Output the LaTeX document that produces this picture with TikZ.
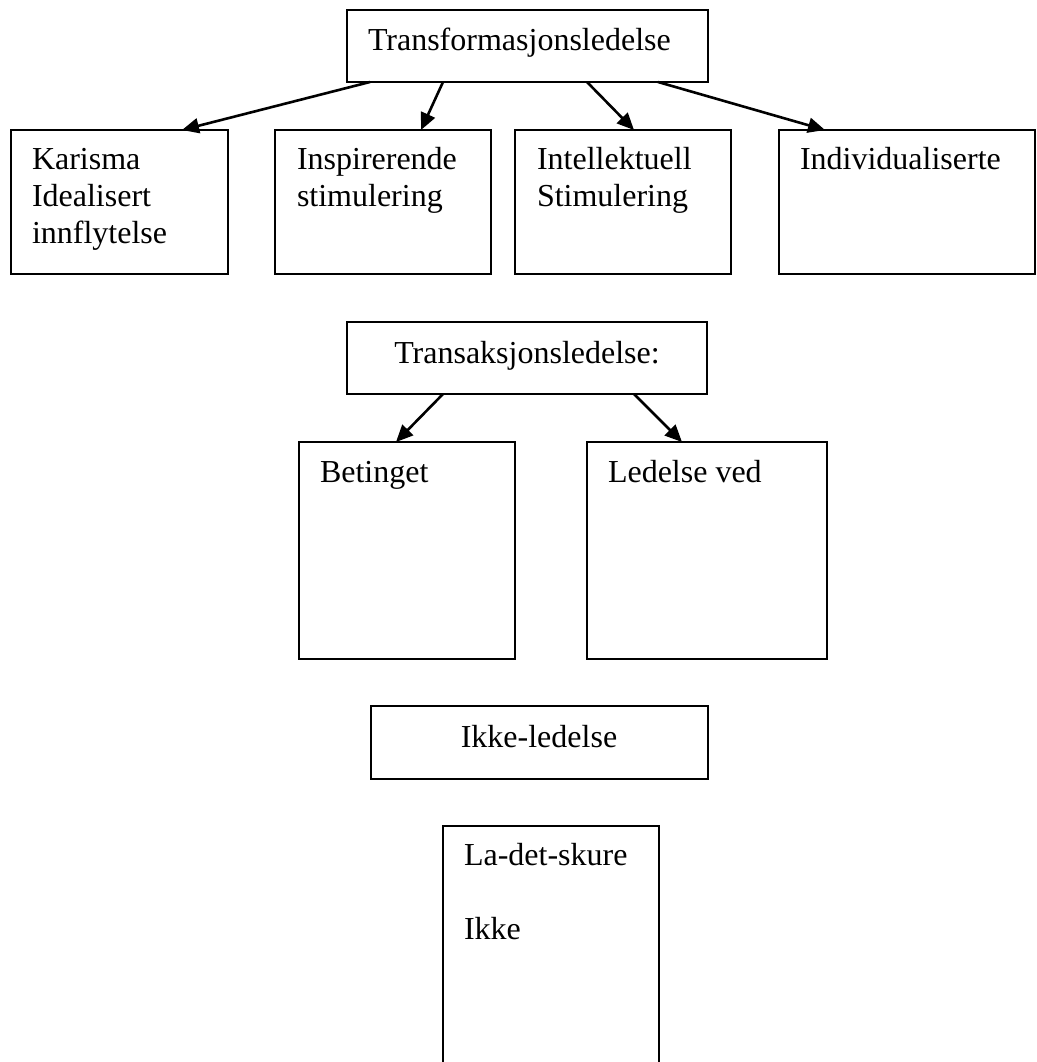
\documentclass[tikz,border=0pt]{standalone}
\usepackage{fontspec}
\setmainfont{Liberation Serif}
\usetikzlibrary{arrows.meta}
\begin{document}
\begin{tikzpicture}[x=1pt,y=-1pt,
  box/.style={draw, line width=2pt, rectangle, inner sep=0pt, outer sep=0pt, anchor=north west},
  % multi-line labels: the base anchor sits on the last line
  lbl/.style={inner sep=0pt, outer sep=0pt, anchor=base west, align=left,
    font=\fontsize{32}{37}\selectfont},
  ctr/.style={inner sep=0pt, outer sep=0pt, anchor=base,
    font=\fontsize{32}{37}\selectfont},
  link/.style={line width=2.6pt, -{Triangle[length=17pt,width=15pt]}}]
  \clip (0,0) rectangle (1036,1062);
  \fill[white] (0,0) rectangle (1036,1062);

  % transformational leadership
  \node[box, minimum width=361pt, minimum height=72pt] (tf) at (347,10) {};
  \node[lbl] (tft) at (368,51) {Transformasjonsledelse};

  \node[box, minimum width=217pt, minimum height=144pt] (kar) at (11,130) {};
  \node[lbl] (kart) at (32,243) {Karisma\\Idealisert\\innflytelse};

  \node[box, minimum width=216pt, minimum height=144pt] (insp) at (275,130) {};
  \node[lbl] (inspt) at (297,206) {Inspirerende\\stimulering};

  \node[box, minimum width=216pt, minimum height=144pt] (intel) at (515,130) {};
  \node[lbl] (intelt) at (537,206) {Intellektuell\\Stimulering};

  \node[box, minimum width=256pt, minimum height=144pt] (indiv) at (779,130) {};
  \node[lbl] (indivt) at (800,169) {Individualiserte};

  \draw[link] ([xshift=23pt]tf.south west) -- ([xshift=171pt]kar.north west);
  \draw[link] ([xshift=96pt]tf.south west) -- ([xshift=146pt]insp.north west);
  \draw[link] ([xshift=240pt]tf.south west) -- ([xshift=119pt]intel.north west);
  \draw[link] ([xshift=311pt]tf.south west) -- ([xshift=46pt]indiv.north west);

  % transactional leadership
  \node[box, minimum width=360pt, minimum height=72pt] (ta) at (347,322) {};
  \node[ctr] (tat) at (527,363) {Transaksjonsledelse:};

  \node[box, minimum width=216pt, minimum height=217pt] (bet) at (299,442) {};
  \node[lbl] (bett) at (320,482) {Betinget};

  \node[box, minimum width=240pt, minimum height=217pt] (led) at (587,442) {};
  \node[lbl] (ledt) at (608,482) {Ledelse ved};

  \draw[link] ([xshift=96pt]ta.south west) -- ([xshift=97pt]bet.north west);
  \draw[link] ([xshift=287pt]ta.south west) -- ([xshift=95pt]led.north west);

  % non-leadership
  \node[box, minimum width=337pt, minimum height=73pt] (ik) at (371,706) {};
  \node[ctr] (ikt) at (539,747) {Ikke-ledelse};

  \node[box, minimum width=216pt, minimum height=260pt] (ld) at (443,826) {};
  \node[lbl] (ldt) at (464,939) {La-det-skure\\[37pt]Ikke};
\end{tikzpicture}
\end{document}
